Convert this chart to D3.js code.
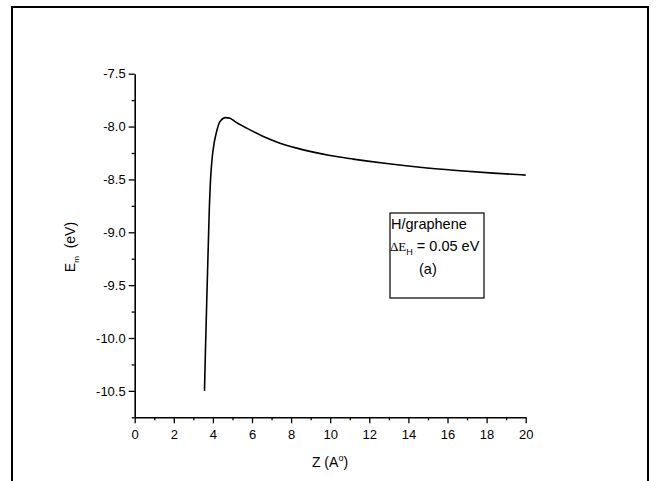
<!DOCTYPE html>
<html>
<head>
<meta charset="utf-8">
<script src="https://cdn.jsdelivr.net/npm/d3@7"></script>
<style>
  html, body { margin: 0; padding: 0; background: #fff; }
  svg { display: block; }
  text { font-family: "Liberation Sans", Arial, sans-serif; fill: #000; }
</style>
</head>
<body>
<svg id="chart" width="656" height="481"></svg>
<script>
// ---- data ----
const zValues  = [3.57, 3.62, 3.70, 3.77, 3.82, 3.88, 3.96, 4.06, 4.19, 4.36, 4.65, 4.87, 5.13, 5.73, 6.58, 7.43, 8.29, 9.14, 9.99, 11.18, 12.89, 14.59, 16.47, 18.34, 20.0];
const emValues = [-10.50, -10.11, -9.55, -9.08, -8.76, -8.50, -8.30, -8.16, -8.047, -7.953, -7.915, -7.921, -7.953, -8.015, -8.094, -8.157, -8.204, -8.242, -8.274, -8.308, -8.350, -8.385, -8.415, -8.440, -8.459];
const xTickValues = [0, 2, 4, 6, 8, 10, 12, 14, 16, 18, 20];
const xMinorValues = [1, 3, 5, 7, 9, 11, 13, 15, 17, 19];
const yTickValues = [-10.5, -10.0, -9.5, -9.0, -8.5, -8.0, -7.5];
const yMinorValues = [-10.75, -10.25, -9.75, -9.25, -8.75, -8.25, -7.75];
const xDomain = [0, 20];
const yDomain = [-10.75, -7.5];
const legendLines = ["H/graphene", "= 0.05 eV", "(a)"];

const svg = d3.select("#chart");

// outer frame
svg.append("rect")
  .attr("x", 12).attr("y", 7).attr("width", 636).attr("height", 490)
  .attr("fill", "none").attr("stroke", "#000").attr("stroke-width", 2);

const x = d3.scaleLinear().domain(xDomain).range([134.7, 525.7]);
const y = d3.scaleLinear().domain(yDomain).range([417.3, 73.7]);

// minor ticks
svg.append("g").attr("transform", `translate(0,${y(yDomain[0])})`)
  .call(d3.axisBottom(x).tickValues(xMinorValues).tickSize(3).tickSizeOuter(0).tickFormat(""))
  .call(g => g.select(".domain").remove())
  .call(g => g.selectAll("line").attr("stroke-width", 1.3));
svg.append("g").attr("transform", `translate(${x(xDomain[0])},0)`)
  .call(d3.axisLeft(y).tickValues(yMinorValues).tickSize(3).tickSizeOuter(0).tickFormat(""))
  .call(g => g.select(".domain").remove())
  .call(g => g.selectAll("line").attr("stroke-width", 1.3));

// major axes
const xAxis = svg.append("g").attr("transform", `translate(0,${y(yDomain[0])})`)
  .call(d3.axisBottom(x).tickValues(xTickValues).tickSize(6).tickSizeOuter(0).tickPadding(6).tickFormat(d => String(d)));
const yAxis = svg.append("g").attr("transform", `translate(${x(xDomain[0])},0)`)
  .call(d3.axisLeft(y).tickValues(yTickValues).tickSize(6).tickSizeOuter(0).tickPadding(3).tickFormat(d => d.toFixed(1)));

[xAxis, yAxis].forEach(g => {
  g.select(".domain").attr("stroke-width", 1.6);
  g.selectAll(".tick line").attr("stroke-width", 1.3);
  g.selectAll(".tick text").attr("font-size", 13).attr("font-family", "'Liberation Sans', Arial, sans-serif");
});

// curve
const line = d3.line()
  .x((d, i) => x(zValues[i]))
  .y(d => y(d))
  .curve(d3.curveMonotoneX);
svg.append("path")
  .datum(emValues)
  .attr("d", line)
  .attr("fill", "none")
  .attr("stroke", "#000")
  .attr("stroke-width", 1.6);

// axis titles
const xt = svg.append("text")
  .attr("x", 330).attr("y", 467)
  .attr("text-anchor", "middle")
  .attr("font-size", 14);
xt.append("tspan").text("Z (A");
xt.append("tspan").attr("font-size", 9).attr("dy", -6).text("o");
xt.append("tspan").attr("dy", 6).text(")");

const yt = svg.append("text")
  .attr("transform", "translate(75,247) rotate(-90)")
  .attr("text-anchor", "middle")
  .attr("font-size", 14);
yt.append("tspan").text("E");
yt.append("tspan").attr("font-size", 8).attr("dy", 4).text("m");
yt.append("tspan").attr("dy", -4).text("  (eV)").attr("xml:space", "preserve");

// legend box
svg.append("rect")
  .attr("x", 390).attr("y", 213).attr("width", 94).attr("height", 85)
  .attr("fill", "#fff").attr("stroke", "#000").attr("stroke-width", 1.2);

svg.append("text").attr("x", 391).attr("y", 229).attr("font-size", 14.5).text(legendLines[0]);
const l2 = svg.append("text").attr("x", 390).attr("y", 251).attr("font-size", 14.5);
l2.append("tspan").attr("font-family", "'Liberation Serif', 'Times New Roman', serif").attr("font-size", 13).text("ΔE");
l2.append("tspan").attr("font-size", 9).attr("dy", 4).text("H");
l2.append("tspan").attr("dy", -4).text(" " + legendLines[1]);
svg.append("text").attr("x", 419).attr("y", 274).attr("font-size", 14.5).text(legendLines[2]);
</script>
</body>
</html>
